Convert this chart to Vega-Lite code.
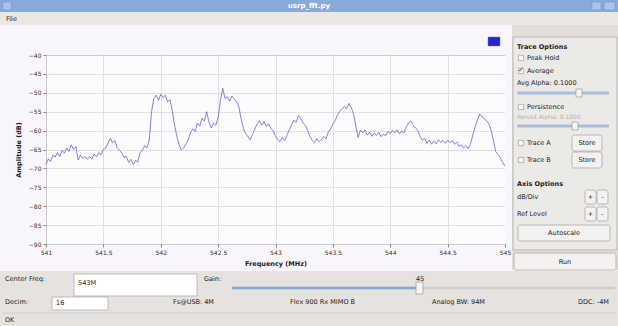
{
  "$schema": "https://vega.github.io/schema/vega-lite/v6.json",
  "padding": 0,
  "background": "#f9f6fb",
  "spacing": 0,
  "config": {
    "view": {"stroke": null},
    "font": "DejaVu Sans",
    "text": {"font": "DejaVu Sans", "fontSize": 6.5, "color": "#222222"},
    "axis": {"labelFont": "DejaVu Sans", "titleFont": "DejaVu Sans"}
  },
  "datasets": {
    "trace": [
      {"f":541.00,"db":-69.0},{"f":541.02,"db":-67.5},{"f":541.04,"db":-68.2},{"f":541.06,"db":-66.5},{"f":541.08,"db":-67.0},
      {"f":541.10,"db":-65.8},{"f":541.12,"db":-66.9},{"f":541.14,"db":-65.2},{"f":541.16,"db":-66.0},{"f":541.18,"db":-64.6},
      {"f":541.20,"db":-65.5},{"f":541.22,"db":-63.8},{"f":541.24,"db":-65.0},{"f":541.26,"db":-64.2},{"f":541.28,"db":-67.8},
      {"f":541.30,"db":-66.5},{"f":541.32,"db":-67.4},{"f":541.34,"db":-66.8},{"f":541.36,"db":-67.6},{"f":541.38,"db":-66.9},
      {"f":541.40,"db":-67.5},{"f":541.42,"db":-66.2},{"f":541.44,"db":-67.0},{"f":541.46,"db":-65.8},{"f":541.48,"db":-66.4},
      {"f":541.50,"db":-65.0},{"f":541.52,"db":-64.6},{"f":541.54,"db":-63.4},{"f":541.56,"db":-62.0},{"f":541.58,"db":-63.2},
      {"f":541.60,"db":-62.6},{"f":541.62,"db":-64.5},{"f":541.64,"db":-65.2},{"f":541.66,"db":-65.9},{"f":541.68,"db":-67.1},
      {"f":541.70,"db":-66.8},{"f":541.72,"db":-68.4},{"f":541.74,"db":-67.6},{"f":541.76,"db":-69.0},{"f":541.78,"db":-67.9},
      {"f":541.80,"db":-68.3},{"f":541.82,"db":-65.8},{"f":541.84,"db":-65.2},{"f":541.86,"db":-64.0},{"f":541.88,"db":-64.6},
      {"f":541.90,"db":-62.5},{"f":541.92,"db":-55.0},{"f":541.94,"db":-51.5},{"f":541.96,"db":-50.6},{"f":541.98,"db":-52.0},
      {"f":542.00,"db":-50.4},{"f":542.02,"db":-51.3},{"f":542.04,"db":-50.6},{"f":542.06,"db":-52.4},{"f":542.08,"db":-51.8},
      {"f":542.10,"db":-54.6},{"f":542.12,"db":-58.5},{"f":542.14,"db":-61.5},{"f":542.16,"db":-63.8},{"f":542.18,"db":-65.2},
      {"f":542.20,"db":-64.6},{"f":542.22,"db":-63.5},{"f":542.24,"db":-62.4},{"f":542.26,"db":-60.5},{"f":542.28,"db":-59.5},
      {"f":542.30,"db":-60.2},{"f":542.32,"db":-58.0},{"f":542.34,"db":-58.8},{"f":542.36,"db":-56.7},{"f":542.38,"db":-57.5},
      {"f":542.40,"db":-55.0},{"f":542.42,"db":-57.8},{"f":542.44,"db":-59.3},{"f":542.46,"db":-58.0},{"f":542.48,"db":-58.6},
      {"f":542.50,"db":-56.5},{"f":542.52,"db":-52.0},{"f":542.54,"db":-48.8},{"f":542.56,"db":-51.5},{"f":542.58,"db":-51.0},
      {"f":542.60,"db":-52.2},{"f":542.62,"db":-50.9},{"f":542.64,"db":-51.6},{"f":542.66,"db":-52.4},{"f":542.68,"db":-53.5},
      {"f":542.70,"db":-56.8},{"f":542.72,"db":-59.4},{"f":542.74,"db":-60.8},{"f":542.76,"db":-61.6},{"f":542.78,"db":-62.4},
      {"f":542.80,"db":-61.0},{"f":542.82,"db":-59.6},{"f":542.84,"db":-58.2},{"f":542.86,"db":-57.4},{"f":542.88,"db":-58.6},
      {"f":542.90,"db":-57.6},{"f":542.92,"db":-58.9},{"f":542.94,"db":-58.2},{"f":542.96,"db":-59.5},{"f":542.98,"db":-60.0},
      {"f":543.00,"db":-61.6},{"f":543.02,"db":-62.4},{"f":543.04,"db":-62.9},{"f":543.06,"db":-61.8},{"f":543.08,"db":-62.6},
      {"f":543.10,"db":-61.2},{"f":543.12,"db":-59.8},{"f":543.14,"db":-58.4},{"f":543.16,"db":-57.2},{"f":543.18,"db":-57.8},
      {"f":543.20,"db":-56.0},{"f":543.22,"db":-56.8},{"f":543.24,"db":-58.0},{"f":543.26,"db":-58.6},{"f":543.28,"db":-60.0},
      {"f":543.30,"db":-61.5},{"f":543.32,"db":-62.6},{"f":543.34,"db":-63.2},{"f":543.36,"db":-62.1},{"f":543.38,"db":-63.0},
      {"f":543.40,"db":-62.4},{"f":543.42,"db":-61.6},{"f":543.44,"db":-62.2},{"f":543.46,"db":-60.4},{"f":543.48,"db":-59.6},
      {"f":543.50,"db":-58.2},{"f":543.52,"db":-57.4},{"f":543.54,"db":-55.8},{"f":543.56,"db":-54.9},{"f":543.58,"db":-54.2},
      {"f":543.60,"db":-53.6},{"f":543.62,"db":-54.3},{"f":543.64,"db":-52.8},{"f":543.66,"db":-53.9},{"f":543.68,"db":-55.6},
      {"f":543.70,"db":-58.8},{"f":543.72,"db":-61.8},{"f":543.74,"db":-59.9},{"f":543.76,"db":-60.6},{"f":543.78,"db":-59.8},
      {"f":543.80,"db":-61.2},{"f":543.82,"db":-60.4},{"f":543.84,"db":-61.5},{"f":543.86,"db":-60.7},{"f":543.88,"db":-61.3},
      {"f":543.90,"db":-60.5},{"f":543.92,"db":-61.6},{"f":543.94,"db":-60.9},{"f":543.96,"db":-61.4},{"f":543.98,"db":-60.2},
      {"f":544.00,"db":-60.8},{"f":544.02,"db":-59.9},{"f":544.04,"db":-60.6},{"f":544.06,"db":-59.8},{"f":544.08,"db":-60.9},
      {"f":544.10,"db":-60.1},{"f":544.12,"db":-60.6},{"f":544.14,"db":-59.0},{"f":544.16,"db":-58.0},{"f":544.18,"db":-57.4},
      {"f":544.20,"db":-58.6},{"f":544.22,"db":-59.2},{"f":544.24,"db":-60.0},{"f":544.26,"db":-61.5},{"f":544.28,"db":-62.6},
      {"f":544.30,"db":-62.0},{"f":544.32,"db":-63.4},{"f":544.34,"db":-62.5},{"f":544.36,"db":-63.6},{"f":544.38,"db":-62.8},
      {"f":544.40,"db":-63.5},{"f":544.42,"db":-62.4},{"f":544.44,"db":-63.1},{"f":544.46,"db":-62.6},{"f":544.48,"db":-63.4},
      {"f":544.50,"db":-62.5},{"f":544.52,"db":-63.2},{"f":544.54,"db":-62.6},{"f":544.56,"db":-63.6},{"f":544.58,"db":-63.0},
      {"f":544.60,"db":-64.2},{"f":544.62,"db":-63.8},{"f":544.64,"db":-64.6},{"f":544.66,"db":-64.0},{"f":544.68,"db":-64.8},
      {"f":544.70,"db":-63.5},{"f":544.72,"db":-61.0},{"f":544.74,"db":-59.0},{"f":544.76,"db":-57.2},{"f":544.78,"db":-55.6},
      {"f":544.80,"db":-56.4},{"f":544.82,"db":-56.9},{"f":544.84,"db":-57.4},{"f":544.86,"db":-58.2},{"f":544.88,"db":-60.0},
      {"f":544.90,"db":-62.8},{"f":544.92,"db":-65.6},{"f":544.94,"db":-66.4},{"f":544.96,"db":-67.2},{"f":544.98,"db":-68.5},
      {"f":545.00,"db":-69.4}
    ],
    "side": [
      {"kind":"box","c":1,"c2":105,"r":12,"r2":225},
      {"kind":"bold","label":"Trace Options","c":5,"r":22},
      {"kind":"check","c":9,"r":33},{"kind":"txt","label":"Peak Hold","c":15,"r":33},
      {"kind":"check","c":9,"r":46},{"kind":"tick","label":"✓","c":9,"r":45},{"kind":"txt","label":"Average","c":15,"r":46},
      {"kind":"txt","label":"Avg Alpha: 0.1000","c":5,"r":58},
      {"kind":"track","c":5,"c2":97,"r":68},{"kind":"knob","c":64,"c2":70,"r":64,"r2":72},
      {"kind":"check","c":9,"r":82},{"kind":"txt","label":"Persistence","c":15,"r":82},
      {"kind":"dim","label":"Persist Alpha: 0.1000","c":5,"r":92},
      {"kind":"track","c":5,"c2":97,"r":101},{"kind":"knob","c":60,"c2":66,"r":97,"r2":105},
      {"kind":"check","c":9,"r":118},{"kind":"txt","label":"Trace A","c":15,"r":118},
      {"kind":"btn","c":60,"c2":90,"r":110,"r2":126},{"kind":"btntxt","label":"Store","c":75,"r":118},
      {"kind":"check","c":9,"r":135},{"kind":"txt","label":"Trace B","c":15,"r":135},
      {"kind":"btn","c":60,"c2":90,"r":127,"r2":143},{"kind":"btntxt","label":"Store","c":75,"r":135},
      {"kind":"bold","label":"Axis Options","c":5,"r":159},
      {"kind":"txt","label":"dB/Div","c":5,"r":172},
      {"kind":"btn","c":73,"c2":84,"r":165,"r2":179},{"kind":"btntxt","label":"+","c":78.5,"r":172},
      {"kind":"btn","c":85,"c2":96,"r":165,"r2":179},{"kind":"btntxt","label":"-","c":90.5,"r":172},
      {"kind":"txt","label":"Ref Level","c":5,"r":189},
      {"kind":"btn","c":73,"c2":84,"r":182,"r2":196},{"kind":"btntxt","label":"+","c":78.5,"r":189},
      {"kind":"btn","c":85,"c2":96,"r":182,"r2":196},{"kind":"btntxt","label":"-","c":90.5,"r":189},
      {"kind":"btn","c":6,"c2":98,"r":200,"r2":216},{"kind":"btntxt","label":"Autoscale","c":52,"r":208},
      {"kind":"btn","c":2,"c2":104,"r":228,"r2":245},{"kind":"btntxt","label":"Run","c":53,"r":236.5}
    ],
    "bottom": [
      {"kind":"txt","label":"Center Freq:","c":5,"r":8},
      {"kind":"field","c":74,"c2":197,"r":3,"r2":25},
      {"kind":"txt","label":"543M","c":78,"r":12},
      {"kind":"txt","label":"Gain:","c":204,"r":8},
      {"kind":"txt","label":"45","c":416,"r":8},
      {"kind":"track","c":232,"c2":615,"r":17},
      {"kind":"fill","c":232,"c2":419,"r":17},
      {"kind":"knob","c":416,"c2":423,"r":11,"r2":23},
      {"kind":"txt","label":"Decim:","c":5,"r":31},
      {"kind":"field","c":52,"c2":108,"r":26,"r2":39},
      {"kind":"txt","label":"16","c":56,"r":32},
      {"kind":"txt","label":"Fs@USB: 4M","c":173,"r":31},
      {"kind":"txt","label":"Flex 900 Rx MIMO B","c":290,"r":31},
      {"kind":"txt","label":"Analog BW: 94M","c":432,"r":31},
      {"kind":"txt","label":"DDC: -4M","c":578,"r":31},
      {"kind":"sep","c":2,"c2":616,"r":42},
      {"kind":"txt","label":"OK","c":5,"r":49}
    ]
  },
  "vconcat": [
    {
      "width": 618, "height": 12,
      "view": {"fill": "#86aad9", "stroke": null},
      "data": {"values": [
        {"kind":"title","label":"usrp_fft.py","c":309,"r":6},
        {"kind":"wbtn","c":3,"c2":11,"r":2,"r2":10},
        {"kind":"wbtn","c":592,"c2":601,"r":2,"r2":10},
        {"kind":"wbtn","c":604,"c2":615,"r":2,"r2":10}
      ]},
      "encoding": {
        "x": {"field": "c", "type": "quantitative", "scale": {"domain": [0, 618]}, "axis": null},
        "y": {"field": "r", "type": "quantitative", "scale": {"domain": [0, 12], "reverse": true}, "axis": null}
      },
      "layer": [
        {"transform": [{"filter": "datum.kind == 'wbtn'"}], "mark": {"type": "rect", "fill": "#a9c4e8", "stroke": "#6f93c4", "strokeWidth": 0.5},
         "encoding": {"x2": {"field": "c2"}, "y2": {"field": "r2"}}},
        {"transform": [{"filter": "datum.kind == 'title'"}], "mark": {"type": "text", "color": "#ffffff", "fontSize": 7, "fontWeight": "bold"},
         "encoding": {"text": {"field": "label"}}}
      ]
    },
    {
      "width": 618, "height": 13,
      "view": {"fill": "#ebe8e4", "stroke": null},
      "data": {"values": [{"label": "File", "c": 6, "r": 6.5}]},
      "mark": {"type": "text", "align": "left", "baseline": "middle", "fontSize": 6.5, "color": "#222222"},
      "encoding": {
        "x": {"field": "c", "type": "quantitative", "scale": {"domain": [0, 618]}, "axis": null},
        "y": {"field": "r", "type": "quantitative", "scale": {"domain": [0, 13], "reverse": true}, "axis": null},
        "text": {"field": "label"}
      }
    },
    {
      "spacing": 0,
      "hconcat": [
        {
          "spacing": 0,
          "vconcat": [
            {
              "width": 510, "height": 26,
              "view": {"fill": "#f9f6fb", "stroke": null},
              "data": {"values": [{"c": 488, "c2": 500, "r": 12, "r2": 21}]},
              "mark": {"type": "rect", "fill": "#2626c4", "stroke": "#7070d8", "strokeWidth": 0.5},
              "encoding": {
                "x": {"field": "c", "type": "quantitative", "scale": {"domain": [0, 510]}, "axis": null},
                "x2": {"field": "c2"},
                "y": {"field": "r", "type": "quantitative", "scale": {"domain": [0, 26], "reverse": true}, "axis": null},
                "y2": {"field": "r2"}
              }
            },
            {
              "bounds": "flush",
              "spacing": 0,
              "hconcat": [
                {"width": 46, "height": 189, "view": {"fill": "#f9f6fb", "stroke": null}, "data": {"values": []}, "mark": "text", "encoding": {}},
                {
                  "width": 459, "height": 189,
                  "view": {"stroke": "#8c8c8c", "strokeWidth": 1, "fill": "#fcfbfd"},
                  "data": {"name": "trace"},
                  "mark": {"type": "line", "color": "#6262dc", "strokeWidth": 0.8},
                  "encoding": {
                    "x": {
                      "field": "f", "type": "quantitative",
                      "scale": {"domain": [541, 545], "nice": false, "zero": false},
                      "axis": {
                        "title": "Frequency (MHz)",
                        "values": [541, 541.5, 542, 542.5, 543, 543.5, 544, 544.5, 545],
                        "format": "~g",
                        "grid": true, "gridColor": "#dadada", "gridWidth": 0.8,
                        "domain": false, "ticks": true, "tickSize": 3, "tickColor": "#888888",
                        "labelFontSize": 6, "labelColor": "#333333", "labelPadding": 2, "labelFlush": false,
                        "titleFontSize": 6.5, "titleFontWeight": "bold", "titleColor": "#222222", "titlePadding": 5
                      }
                    },
                    "y": {
                      "field": "db", "type": "quantitative",
                      "scale": {"domain": [-90, -40], "nice": false, "zero": false},
                      "axis": {
                        "title": "Amplitude (dB)",
                        "values": [-90, -85, -80, -75, -70, -65, -60, -55, -50, -45, -40],
                        "grid": true, "gridColor": "#dadada", "gridWidth": 0.8,
                        "domain": false, "ticks": true, "tickSize": 3, "tickColor": "#888888",
                        "labelFontSize": 6, "labelColor": "#333333", "labelPadding": 2,
                        "titleFontSize": 6.5, "titleFontWeight": "bold", "titleColor": "#222222", "titlePadding": 7
                      }
                    }
                  }
                },
                {"width": 5, "height": 189, "view": {"fill": "#f9f6fb", "stroke": null}, "data": {"values": []}, "mark": "text", "encoding": {}}
              ]
            }
          ]
        },
        {
          "width": 108, "height": 245,
          "view": {"fill": "#e2dfdb", "stroke": null},
          "data": {"name": "side"},
          "encoding": {
            "x": {"field": "c", "type": "quantitative", "scale": {"domain": [0, 108]}, "axis": null},
            "y": {"field": "r", "type": "quantitative", "scale": {"domain": [0, 245], "reverse": true}, "axis": null}
          },
          "layer": [
            {"transform": [{"filter": "datum.kind == 'box'"}], "mark": {"type": "rect", "fill": "#eceae7", "stroke": "#aeaca8", "strokeWidth": 0.8},
             "encoding": {"x2": {"field": "c2"}, "y2": {"field": "r2"}}},
            {"transform": [{"filter": "datum.kind == 'btn'"}], "mark": {"type": "rect", "fill": "#f3f2f0", "stroke": "#a3a19e", "strokeWidth": 0.7, "cornerRadius": 2},
             "encoding": {"x2": {"field": "c2"}, "y2": {"field": "r2"}}},
            {"transform": [{"filter": "datum.kind == 'track'"}], "mark": {"type": "rule", "color": "#a9bfdc", "strokeWidth": 3},
             "encoding": {"x2": {"field": "c2"}}},
            {"transform": [{"filter": "datum.kind == 'knob'"}], "mark": {"type": "rect", "fill": "#f4f4f3", "stroke": "#8e8e8e", "strokeWidth": 0.6},
             "encoding": {"x2": {"field": "c2"}, "y2": {"field": "r2"}}},
            {"transform": [{"filter": "datum.kind == 'check'"}], "mark": {"type": "point", "shape": "square", "size": 28, "filled": true, "fill": "#ffffff", "stroke": "#7d7d7d", "strokeWidth": 0.7}},
            {"transform": [{"filter": "datum.kind == 'tick'"}], "mark": {"type": "text", "fontSize": 7, "color": "#3a3a3a"},
             "encoding": {"text": {"field": "label"}}},
            {"transform": [{"filter": "datum.kind == 'txt'"}], "mark": {"type": "text", "align": "left", "baseline": "middle", "fontSize": 6.5, "color": "#222222"},
             "encoding": {"text": {"field": "label"}}},
            {"transform": [{"filter": "datum.kind == 'bold'"}], "mark": {"type": "text", "align": "left", "baseline": "middle", "fontSize": 6.5, "fontWeight": "bold", "color": "#222222"},
             "encoding": {"text": {"field": "label"}}},
            {"transform": [{"filter": "datum.kind == 'dim'"}], "mark": {"type": "text", "align": "left", "baseline": "middle", "fontSize": 6, "color": "#b0aeab"},
             "encoding": {"text": {"field": "label"}}},
            {"transform": [{"filter": "datum.kind == 'btntxt'"}], "mark": {"type": "text", "align": "center", "baseline": "middle", "fontSize": 6.5, "color": "#222222"},
             "encoding": {"text": {"field": "label"}}}
          ]
        }
      ]
    },
    {
      "width": 618, "height": 56,
      "view": {"fill": "#e6e3df", "stroke": null},
      "data": {"name": "bottom"},
      "encoding": {
        "x": {"field": "c", "type": "quantitative", "scale": {"domain": [0, 618]}, "axis": null},
        "y": {"field": "r", "type": "quantitative", "scale": {"domain": [0, 56], "reverse": true}, "axis": null}
      },
      "layer": [
        {"transform": [{"filter": "datum.kind == 'field'"}], "mark": {"type": "rect", "fill": "#ffffff", "stroke": "#a8a6a3", "strokeWidth": 0.7},
         "encoding": {"x2": {"field": "c2"}, "y2": {"field": "r2"}}},
        {"transform": [{"filter": "datum.kind == 'track'"}], "mark": {"type": "rule", "color": "#cfccc8", "strokeWidth": 2.5},
         "encoding": {"x2": {"field": "c2"}}},
        {"transform": [{"filter": "datum.kind == 'fill'"}], "mark": {"type": "rule", "color": "#86a8d6", "strokeWidth": 2.5},
         "encoding": {"x2": {"field": "c2"}}},
        {"transform": [{"filter": "datum.kind == 'sep'"}], "mark": {"type": "rule", "color": "#c9c6c2", "strokeWidth": 0.8},
         "encoding": {"x2": {"field": "c2"}}},
        {"transform": [{"filter": "datum.kind == 'knob'"}], "mark": {"type": "rect", "fill": "#f3f3f2", "stroke": "#8e8e8e", "strokeWidth": 0.6},
         "encoding": {"x2": {"field": "c2"}, "y2": {"field": "r2"}}},
        {"transform": [{"filter": "datum.kind == 'txt'"}], "mark": {"type": "text", "align": "left", "baseline": "middle", "fontSize": 6.5, "color": "#222222"},
         "encoding": {"text": {"field": "label"}}}
      ]
    }
  ]
}
